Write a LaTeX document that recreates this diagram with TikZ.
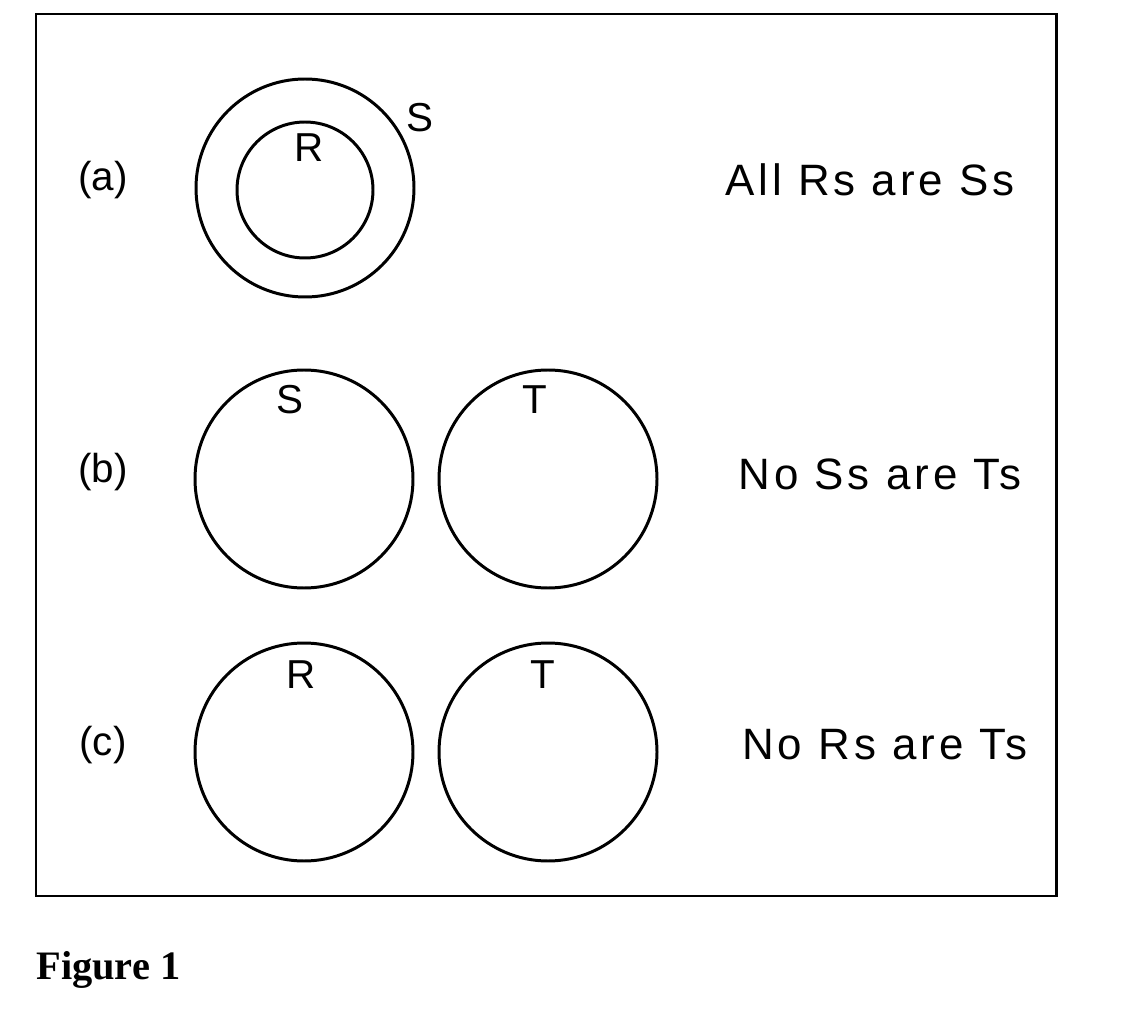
\documentclass[tikz,border=0pt]{standalone}
\usepackage{fontspec}
\setmainfont{Liberation Sans}
\newfontfamily\serifb{Liberation Serif}
\newfontfamily\wide[LetterSpace=9]{Liberation Sans}
\begin{document}
\begin{tikzpicture}[x=0.02cm,y=-0.02cm,
  circ/.style={draw,line width=1.7pt},
  lab/.style={font=\fontsize{23}{26}\selectfont,inner sep=0pt},
  stmt/.style={font=\wide\fontsize{25}{28}\selectfont,inner sep=0pt}]
\useasboundingbox (0,0) rectangle (1136,1020);
\draw[line width=1.7pt] (36,14) rectangle (1056,896);
% (a)
\draw[circ] (305,188) circle (109);
\draw[circ] (305,190) circle (68);
\node[lab] (ra) at (309,148) {R};
\node[lab] (sa) at (420,118) {S};
\node[lab] (la) at (103,180) {(a)};
\node[stmt] (ta) at (870,180) {All Rs are Ss};
% (b)
\draw[circ] (304,479) circle (109);
\draw[circ] (548,479) circle (109);
\node[lab] (sb) at (290,400) {S};
\node[lab] (tb) at (535,400) {T};
\node[lab] (lb) at (103,472) {(b)};
\node[stmt] (tbb) at (880,474) {No Ss are Ts};
% (c)
\draw[circ] (304,752) circle (109);
\draw[circ] (548,752) circle (109);
\node[lab] (rc) at (301,675) {R};
\node[lab] (tc) at (543,675) {T};
\node[lab] (lc) at (103,745) {(c)};
\node[stmt] (tcc) at (885,745) {No Rs are Ts};
\node[anchor=west,inner sep=0pt,font=\serifb\bfseries\fontsize{23}{27}\selectfont] (fig) at (36,970) {Figure 1};
\end{tikzpicture}
\end{document}
